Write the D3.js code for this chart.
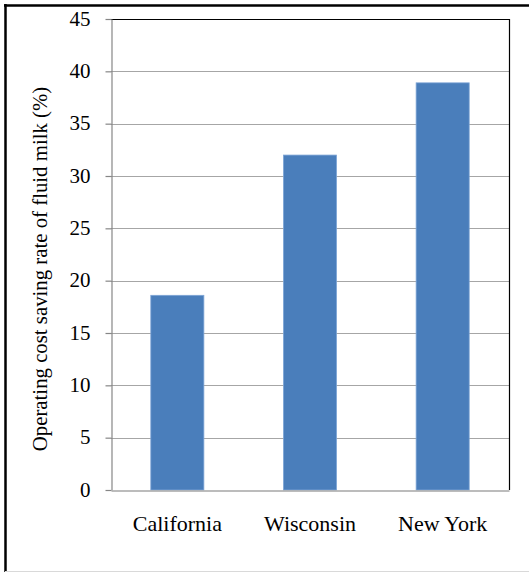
<!DOCTYPE html>
<html>
<head>
<meta charset="utf-8">
<script src="https://cdn.jsdelivr.net/npm/d3@7"></script>
<style>
  html, body { margin: 0; padding: 0; background: #fff; }
  svg { display: block; }
</style>
</head>
<body>
<svg id="chart" width="529" height="572"></svg>
<script>
// Operating cost saving rate of fluid milk, by state
const categories = ["California", "Wisconsin", "New York"];
const savingRates = [18.6, 32.0, 38.9];
const yTicks = [0, 5, 10, 15, 20, 25, 30, 35, 40, 45];
const yTitle = "Operating cost saving rate of fluid milk (%)";

const svg = d3.select("#chart");
const W = 529, H = 572;
const plot = { left: 111, right: 509, top: 19, bottom: 490 };
const fontFamily = "'Liberation Serif', 'Times New Roman', serif";

// Outer frame: heavy left/top edges, faint bottom edge
svg.append("line").attr("x1", 4).attr("x2", W).attr("y1", 5.5).attr("y2", 5.5)
  .attr("stroke", "#000").attr("stroke-width", 2.5);
svg.append("line").attr("x1", 5.5).attr("x2", 5.5).attr("y1", 4).attr("y2", H)
  .attr("stroke", "#000").attr("stroke-width", 2.5);
svg.append("line").attr("x1", 5).attr("x2", W).attr("y1", 571.5).attr("y2", 571.5)
  .attr("stroke", "#d9d9d9").attr("stroke-width", 1);

const x = d3.scaleBand()
  .domain(categories)
  .range([plot.left, plot.right])
  .paddingInner(0.6)
  .paddingOuter(0.3);

const y = d3.scaleLinear()
  .domain([0, 45])
  .range([plot.bottom, plot.top]);

// Horizontal gridlines
svg.append("g")
  .selectAll("line")
  .data(yTicks.filter(t => t > 0))
  .join("line")
  .attr("x1", plot.left)
  .attr("x2", plot.right)
  .attr("y1", d => Math.round(y(d)) + 0.5)
  .attr("y2", d => Math.round(y(d)) + 0.5)
  .attr("stroke", "#a6a6a6")
  .attr("stroke-width", 1.2);

// Plot area border (top and right)
svg.append("path")
  .attr("d", `M${plot.left},${plot.top + 0.5}H${plot.right + 0.5}V${plot.bottom}`)
  .attr("fill", "none")
  .attr("stroke", "#000")
  .attr("stroke-width", 1.2);

// Bars
svg.append("g")
  .selectAll("rect")
  .data(categories.map((c, i) => ({ c, v: savingRates[i] })))
  .join("rect")
  .attr("x", d => x(d.c))
  .attr("width", x.bandwidth())
  .attr("y", d => y(d.v))
  .attr("height", d => y(0) - y(d.v))
  .attr("fill", "#4a7ebb")
  .attr("stroke", "#7ea5d6")
  .attr("stroke-width", 0.8);

// Y axis
const yAxis = svg.append("g")
  .attr("transform", `translate(${plot.left + 0.5},0)`)
  .call(d3.axisLeft(y).tickValues(yTicks).tickSize(6).tickPadding(15).tickSizeOuter(0));
yAxis.select(".domain").attr("stroke", "#868686").attr("stroke-width", 1.2);
yAxis.selectAll(".tick line").attr("stroke", "#868686").attr("stroke-width", 1.2);
yAxis.selectAll(".tick text")
  .attr("font-family", fontFamily)
  .attr("font-size", 21)
  .attr("fill", "#000")
  .attr("dy", "0.3em");

// X axis
const xAxis = svg.append("g")
  .attr("transform", `translate(0,${plot.bottom + 0.5})`)
  .call(d3.axisBottom(x).tickSize(0).tickPadding(25).tickSizeOuter(0));
xAxis.select(".domain").attr("stroke", "#a6a6a6").attr("stroke-width", 1.5);
xAxis.selectAll(".tick text")
  .attr("font-family", fontFamily)
  .attr("font-size", 22)
  .attr("fill", "#000");

// Y axis title
svg.append("text")
  .attr("transform", "translate(47,269) rotate(-90)")
  .attr("text-anchor", "middle")
  .attr("font-family", fontFamily)
  .attr("font-size", 20.8)
  .attr("fill", "#000")
  .text(yTitle);
</script>
</body>
</html>
